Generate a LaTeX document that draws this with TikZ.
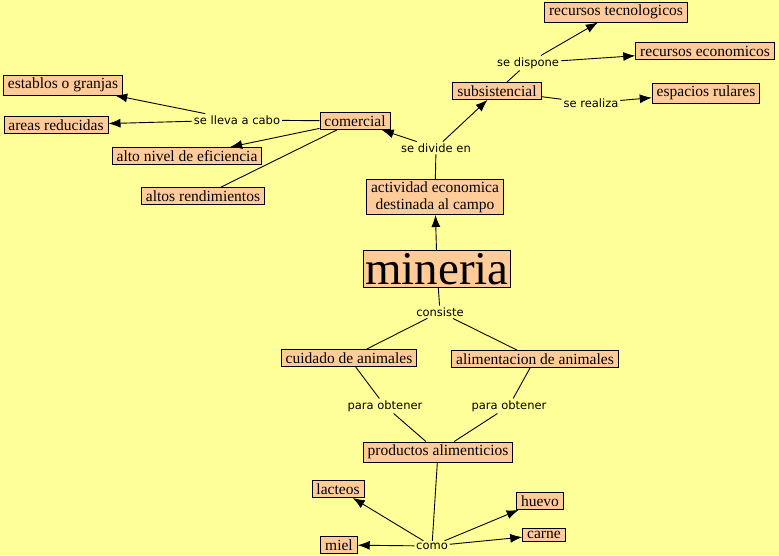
\documentclass[tikz,border=0pt]{standalone}
\usepackage{fontspec}
\setmainfont{Liberation Serif}
\newfontfamily\labelfont{DejaVu Sans}
\usetikzlibrary{arrows.meta}
\definecolor{fondo}{HTML}{FFFF99}
\definecolor{caja}{HTML}{FFCC99}

\begin{document}
\begin{tikzpicture}[x=1pt, y=-1pt, line width=.9pt,
    concepto/.style={draw, fill=caja, inner xsep=4.5pt, inner ysep=3pt, font=\fontsize{15.5}{17}\selectfont},
    enlace/.style={inner sep=1.5pt, font=\labelfont\fontsize{11.5}{13}\selectfont},
    flecha/.style={-{Latex[length=12pt, width=9pt]}}]
    \fill[fondo] (0,0) rectangle (779,555);
    \useasboundingbox (0,0) rectangle (779,555);

    \node[concepto, font=\fontsize{47}{48}\selectfont, inner xsep=2pt, inner ysep=2.5pt] (M) at (437,269) {mineria};
    \node[concepto, align=center, inner ysep=2pt] (A) at (435,197) {actividad economica\\destinada al campo};
    \node[enlace] (L1) at (436,148) {se divide en};
    \node[concepto] (C) at (355,121) {comercial};
    \node[concepto] (S) at (497,91) {subsistencial};

    \node[enlace] (L2) at (528,63) {se dispone};
    \node[concepto] (RT) at (616,12) {recursos tecnologicos};
    \node[concepto] (RE) at (705,51) {recursos economicos};
    \node[enlace] (L3) at (591,103) {se realiza};
    \node[concepto] (ER) at (706,93) {espacios rulares};

    \node[enlace] (L4) at (237,120) {se lleva a cabo};
    \node[concepto] (EG) at (63,85) {establos o granjas};
    \node[concepto] (AR) at (56,125) {areas reducidas};
    \node[concepto] (AN) at (187,156) {alto nivel de eficiencia};
    \node[concepto] (AL) at (203,196) {altos rendimientos};

    \node[enlace] (L5) at (440,312) {consiste};
    \node[concepto] (CA) at (349,358) {cuidado de animales};
    \node[concepto] (AA) at (535,359) {alimentacion de animales};
    \node[enlace] (L6) at (385,406) {para obtener};
    \node[enlace] (L7) at (509,406) {para obtener};
    \node[concepto] (P) at (438,452) {productos alimenticios};

    \node[enlace] (L8) at (432,546) {como};
    \node[concepto] (LA) at (338,489) {lacteos};
    \node[concepto] (HU) at (540,501) {huevo};
    \node[concepto] (CR) at (544,535) {carne};
    \node[concepto] (MI) at (339,545) {miel};

    \draw[flecha] (M) -- (A);
    \draw (A) -- (L1);
    \draw[flecha] (L1) -- (C);
    \draw[flecha] (L1) -- (S);

    \draw (S) -- (L2);
    \draw[flecha] (L2) -- (RT);
    \draw[flecha] (L2) -- (RE);
    \draw (S) -- (L3);
    \draw[flecha] (L3) -- (ER);

    \draw (C) -- (L4);
    \draw[flecha] (L4) -- (EG);
    \draw[flecha] (L4) -- (AR);
    \draw[flecha] (C) -- (AN);
    \draw (C) -- (AL);

    \draw (M) -- (L5);
    \draw (L5) -- (CA);
    \draw (L5) -- (AA);
    \draw (CA) -- (L6);
    \draw (AA) -- (L7);
    \draw (L6) -- (P);
    \draw (L7) -- (P);

    \draw (P) -- (L8);
    \draw[flecha] (L8) -- (LA);
    \draw[flecha] (L8) -- (HU);
    \draw[flecha] (L8) -- (CR);
    \draw[flecha] (L8) -- (MI);
\end{tikzpicture}
\end{document}
